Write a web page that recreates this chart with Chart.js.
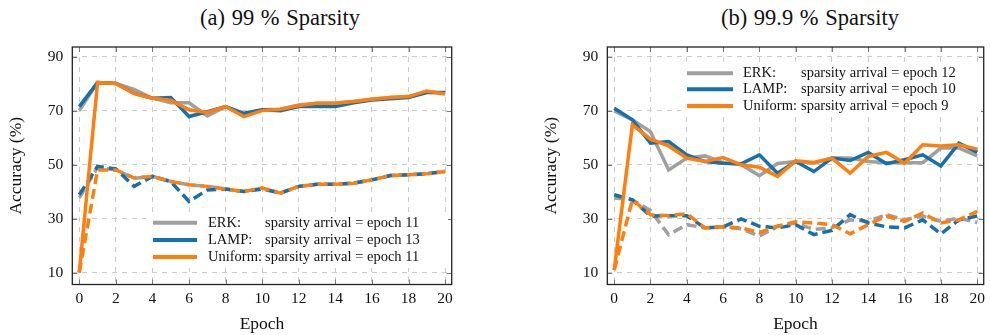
<!DOCTYPE html>
<html>
<head>
<meta charset="utf-8">
<script src="https://cdn.jsdelivr.net/npm/chart.js@4.4.1/dist/chart.umd.min.js"></script>
<style>
  html, body { margin: 0; padding: 0; background: #fff; }
  #wrap { position: relative; width: 990px; height: 335px; overflow: hidden; font-family: "Liberation Serif", serif; }
  canvas { position: absolute; top: 0; }
  .title { position: absolute; top: 5px; line-height: 26px; font-size: 22.5px; color: #111; white-space: nowrap; transform: translateX(-50%); word-spacing: 1px; }
</style>
</head>
<body>
<div id="wrap">
  <div class="title" style="left:280px">(a) 99 % Sparsity</div>
  <div class="title" style="left:810px">(b) 99.9 % Sparsity</div>
  <canvas id="chartA" width="495" height="335" style="left:0"></canvas>
  <canvas id="chartB" width="455" height="335" style="left:535px"></canvas>
</div>
<script>
// epochs and axis ticks
const epochs = [0, 1, 2, 3, 4, 5, 6, 7, 8, 9, 10, 11, 12, 13, 14, 15, 16, 17, 18, 19, 20];
const xTicks = [0, 2, 4, 6, 8, 10, 12, 14, 16, 18, 20];
const yTicks = [10, 30, 50, 70, 90];

const methodNames = ['ERK:', 'LAMP:', 'Uniform:'];
const arrivalA = [11, 13, 11];
const arrivalB = [12, 10, 9];

// (a) 99% sparsity - solid lines
const erkSolidA  = [70.1, 80.5, 80.2, 78.0, 74.7, 73.0, 73.0, 68.1, 71.6, 68.5, 70.4, 70.6, 72.2, 72.8, 72.9, 73.5, 74.3, 75.0, 75.3, 77.0, 76.5];
const lampSolidA = [71.6, 80.5, 80.2, 76.5, 74.7, 75.0, 67.9, 69.7, 71.6, 69.1, 70.4, 70.1, 71.6, 71.6, 71.6, 73.0, 74.0, 74.5, 75.0, 76.8, 76.8];
const uniSolidA  = [10.0, 80.5, 80.2, 76.5, 74.7, 74.0, 70.4, 69.4, 71.6, 67.9, 70.1, 70.6, 72.0, 72.8, 72.8, 73.5, 74.3, 75.0, 75.3, 77.4, 76.3];
// (a) dashed lines
const erkDashA  = [37.7, 49.0, 48.1, 45.0, 45.7, 43.8, 42.6, 42.0, 41.0, 40.1, 41.4, 39.5, 42.0, 42.8, 42.8, 43.2, 44.4, 46.0, 46.3, 46.7, 47.5];
const lampDashA = [38.9, 49.4, 48.5, 42.0, 45.7, 43.8, 36.4, 40.7, 41.0, 40.1, 41.0, 39.5, 42.0, 42.8, 42.8, 43.2, 44.4, 46.0, 46.3, 46.7, 47.5];
const uniDashA  = [10.0, 48.1, 48.1, 45.1, 45.7, 43.8, 42.6, 42.0, 41.0, 40.1, 41.4, 39.5, 42.0, 42.8, 42.8, 43.2, 44.4, 46.0, 46.3, 46.7, 47.5];

// (b) 99.9% sparsity - solid lines
const erkSolidB  = [70.0, 66.7, 62.3, 48.1, 52.5, 53.3, 50.8, 50.0, 46.0, 50.5, 51.2, 50.6, 52.5, 52.5, 51.2, 50.8, 50.8, 50.8, 56.2, 56.2, 53.3];
const lampSolidB = [71.0, 66.7, 58.0, 58.6, 53.7, 51.2, 50.6, 50.4, 53.7, 46.9, 51.2, 47.5, 52.5, 51.6, 54.6, 50.4, 51.9, 53.7, 49.6, 58.0, 54.6];
const uniSolidB  = [11.0, 64.8, 59.5, 57.0, 52.5, 51.2, 52.7, 50.0, 49.1, 45.7, 51.5, 50.9, 52.5, 46.9, 53.1, 54.6, 50.6, 57.4, 57.0, 57.4, 55.8];
// (b) dashed lines
const erkDashB  = [37.7, 37.0, 33.0, 24.1, 27.8, 26.6, 27.0, 26.3, 23.5, 27.2, 28.4, 26.0, 26.6, 29.6, 29.0, 31.5, 29.6, 31.0, 29.0, 30.2, 28.6];
const lampDashB = [38.9, 37.0, 31.0, 31.1, 31.1, 26.6, 27.0, 29.9, 27.2, 26.6, 27.8, 24.1, 25.7, 31.5, 28.4, 27.0, 26.6, 29.6, 24.4, 29.6, 31.0];
const uniDashB  = [11.0, 37.0, 31.5, 31.1, 31.9, 26.6, 27.0, 26.6, 24.9, 27.2, 28.9, 28.4, 27.8, 24.4, 27.8, 31.0, 29.0, 32.1, 28.4, 29.6, 32.7];

const GRAY = '#a0a0a0', BLUE = '#1570ab', ORANGE = '#ff7f0e';
const colors = [GRAY, BLUE, ORANGE];
const FONT = 'Liberation Serif';

function pts(arr) {
    return epochs.map((e, i) => ({ x: e, y: arr[i] }));
}

function line(arr, color, dashed, order) {
    return {
        data: pts(arr),
        borderColor: color,
        borderWidth: 3.5,
        borderDash: dashed ? [10, 5] : [],
        pointRadius: 0,
        tension: 0,
        fill: false,
        order: order
    };
}

// frame with inner tick marks, pgfplots style
const framePlugin = {
    id: 'frame',
    beforeDatasetsDraw(chart) {
        const { ctx, chartArea: a, scales: { x, y } } = chart;
        ctx.save();
        ctx.strokeStyle = '#777';
        ctx.lineWidth = 1;
        ctx.beginPath();
        xTicks.forEach(v => {
            const px = Math.round(x.getPixelForValue(v)) + 0.5;
            ctx.moveTo(px, a.top); ctx.lineTo(px, a.top + 5);
            ctx.moveTo(px, a.bottom); ctx.lineTo(px, a.bottom - 5);
        });
        yTicks.forEach(v => {
            const py = Math.round(y.getPixelForValue(v)) + 0.5;
            ctx.moveTo(a.left, py); ctx.lineTo(a.left + 5, py);
            ctx.moveTo(a.right, py); ctx.lineTo(a.right - 5, py);
        });
        ctx.stroke();
        ctx.restore();
    },
    afterDatasetsDraw(chart, args, opts) {
        const { ctx } = chart;
        const lg = opts.legend;
        if (lg) {
            ctx.save();
            ctx.fillStyle = '#fff';
            ctx.fillRect(lg.box[0], lg.box[1], lg.box[2], lg.box[3]);
            ctx.font = '14.5px "' + FONT + '"';
            ctx.textBaseline = 'middle';
            lg.rows.forEach((ry, i) => {
                ctx.strokeStyle = colors[i];
                ctx.lineWidth = 4;
                ctx.beginPath();
                ctx.moveTo(lg.lineX[0], ry);
                ctx.lineTo(lg.lineX[1], ry);
                ctx.stroke();
                ctx.fillStyle = '#111';
                ctx.fillText(methodNames[i], lg.nameX, ry);
                ctx.fillText('sparsity arrival = epoch ' + lg.arrival[i], lg.descX, ry);
            });
            ctx.restore();
        }
    },
    afterDraw(chart) {
        const { ctx, chartArea: a } = chart;
        ctx.save();
        ctx.strokeStyle = '#222';
        ctx.lineWidth = 1.3;
        ctx.strokeRect(a.left, a.top, a.right - a.left, a.bottom - a.top);
        ctx.restore();
    }
};

function makeChart(id, solids, dashes, legend, rightPad) {
    const ctx = document.getElementById(id).getContext('2d');
    const tickFont = { family: FONT, size: 15.5 };
    const titleFont = { family: FONT, size: 17.5 };
    const grid = { color: '#cccccc', lineWidth: 1, drawTicks: false };
    const border = { display: false, dash: [5, 5] };
    return new Chart(ctx, {
        type: 'line',
        data: {
            datasets: [
                line(solids[0], GRAY, false, 2),
                line(solids[1], BLUE, false, 1),
                line(solids[2], ORANGE, false, 0),
                line(dashes[0], GRAY, true, 5),
                line(dashes[1], BLUE, true, 4),
                line(dashes[2], ORANGE, true, 3)
            ]
        },
        options: {
            responsive: false,
            animation: false,
            devicePixelRatio: 1,
            layout: { padding: { top: 47, right: rightPad, left: 0, bottom: 0 } },
            plugins: {
                legend: { display: false },
                tooltip: { enabled: false },
                frame: { legend: legend }
            },
            scales: {
                x: {
                    type: 'linear',
                    min: -0.38,
                    max: 20.36,
                    afterBuildTicks: s => { s.ticks = xTicks.map(v => ({ value: v })); },
                    afterFit: s => { s.height = 50.5; },
                    grid: grid,
                    border: border,
                    ticks: { padding: 5, color: '#111', font: tickFont, maxRotation: 0, autoSkip: false },
                    title: { display: true, text: 'Epoch', color: '#111', font: titleFont, padding: { top: 0, bottom: 0 } }
                },
                y: {
                    min: 5.6,
                    max: 93.7,
                    afterBuildTicks: s => { s.ticks = yTicks.map(v => ({ value: v })); },
                    afterFit: s => { s.width = 72.3; },
                    grid: grid,
                    border: border,
                    ticks: { padding: 9, color: '#111', font: tickFont },
                    title: { display: true, text: 'Accuracy (%)', color: '#111', font: titleFont, padding: { top: 6, bottom: 0 } }
                }
            }
        },
        plugins: [framePlugin]
    });
}

makeChart('chartA',
    [erkSolidA, lampSolidA, uniSolidA],
    [erkDashA, lampDashA, uniDashA],
    { box: [146, 212, 302, 56], rows: [222.7, 240, 257], lineX: [153, 197], nameX: 208, descX: 265, arrival: arrivalA },
    43.3);

makeChart('chartB',
    [erkSolidB, lampSolidB, uniSolidB],
    [erkDashB, lampDashB, uniDashB],
    { box: [146, 63, 300, 52], rows: [73.3, 89.3, 106], lineX: [152, 198], nameX: 208, descX: 266, arrival: arrivalB },
    4);
</script>
</body>
</html>
